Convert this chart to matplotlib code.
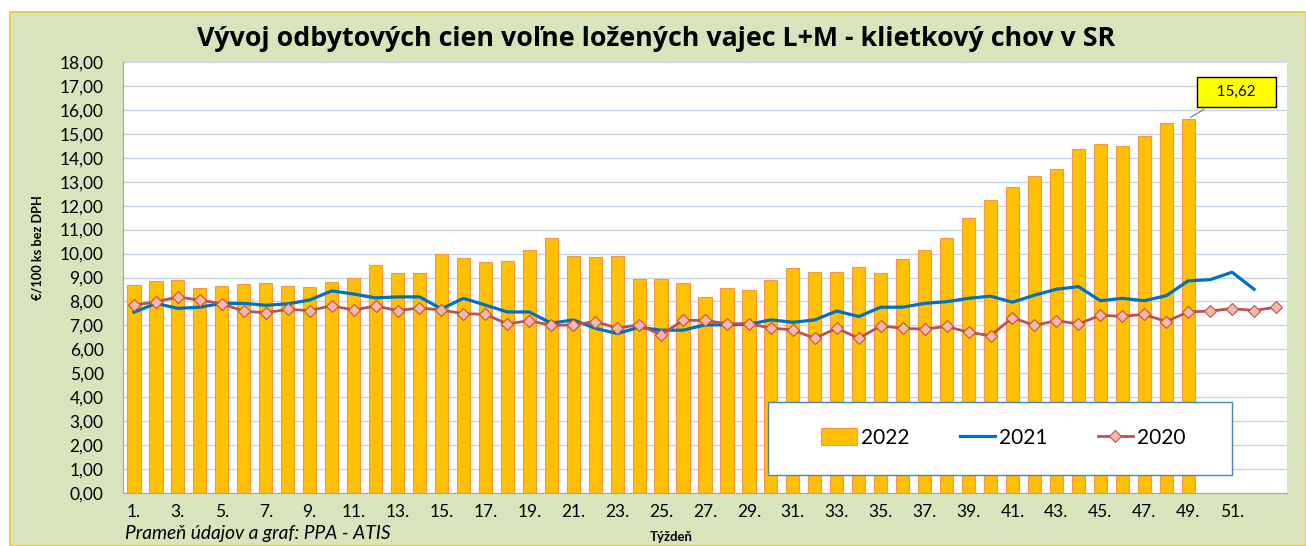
import numpy as np
import matplotlib.pyplot as plt
from matplotlib.patches import Rectangle

# weekly prices, EUR / 100 pcs without VAT
weeks = list(range(1, 54))
week_labels = [f"{w}." for w in range(1, 52, 2)]
price_2022 = [8.68, 8.84, 8.88, 8.58, 8.63, 8.73, 8.76, 8.66, 8.62, 8.81,
              8.98, 9.52, 9.20, 9.20, 9.98, 9.80, 9.63, 9.70, 10.14, 10.65,
              9.91, 9.87, 9.91, 8.92, 8.94, 8.76, 8.19, 8.58, 8.47, 8.90,
              9.40, 9.22, 9.22, 9.43, 9.18, 9.77, 10.14, 10.64, 11.50, 12.25,
              12.80, 13.24, 13.52, 14.36, 14.58, 14.48, 14.90, 15.44, 15.62]
price_2021 = [7.55, 7.92, 7.71, 7.76, 7.92, 7.92, 7.84, 7.90, 8.06, 8.44,
              8.31, 8.15, 8.19, 8.19, 7.69, 8.13, 7.85, 7.56, 7.56, 7.09,
              7.23, 6.88, 6.66, 6.92, 6.80, 6.80, 7.02, 7.02, 7.05, 7.23,
              7.13, 7.23, 7.60, 7.37, 7.76, 7.76, 7.92, 7.99, 8.13, 8.22,
              7.97, 8.26, 8.51, 8.62, 8.03, 8.13, 8.03, 8.24, 8.86, 8.91,
              9.22, 8.51]
price_2020 = [7.85, 7.98, 8.19, 8.05, 7.91, 7.59, 7.53, 7.67, 7.62, 7.82,
              7.64, 7.81, 7.62, 7.73, 7.64, 7.49, 7.46, 7.06, 7.20, 7.00,
              7.02, 7.16, 6.89, 7.02, 6.60, 7.21, 7.21, 7.07, 7.07, 6.89,
              6.81, 6.46, 6.88, 6.46, 6.98, 6.88, 6.84, 6.96, 6.71, 6.57,
              7.32, 7.00, 7.20, 7.06, 7.42, 7.38, 7.46, 7.16, 7.56, 7.60,
              7.70, 7.62, 7.76]

plt.rcParams['font.family'] = ['Lato', 'DejaVu Sans']

W, H = 1306, 546
fig = plt.figure(figsize=(W / 100, H / 100), dpi=100)
fig.patch.set_facecolor('white')
fig.patches.append(Rectangle((10 / W, 0), 1 - 10 / W, 1 - 12 / H, transform=fig.transFigure,
                             facecolor='#D8E4BC', edgecolor='#F2C230', lw=1.2, zorder=-5))

ax = fig.add_axes([123 / W, 1 - 493 / H, (1287 - 123) / W, (493 - 62) / H])
ax.set_zorder(2)
ax.set_facecolor('white')

x = np.arange(len(weeks))
b22 = ax.bar(x[:len(price_2022)], price_2022, width=0.6, color='#FFC000', edgecolor='#F79646',
             lw=0.8, label='2022', zorder=2)
l21, = ax.plot(x[:len(price_2021)], price_2021, color='#0070C0', lw=2.3, label='2021', zorder=3)
l20, = ax.plot(x[:len(price_2020)], price_2020, color='#C0504D', lw=2.0, marker='D', ms=6,
               mfc='#F4B9AE', mec='#C0504D', mew=0.8, label='2020', zorder=4)

ax.set_xlim(-0.5, len(weeks) - 0.5)
ax.set_ylim(0, 18)
ax.set_yticks(np.arange(0, 19, 1))
ax.set_yticklabels([f"{v:.2f}".replace('.', ',') for v in np.arange(0, 19, 1)], fontsize=12.5)
ax.set_xticks(x[::2][:len(week_labels)])
ax.set_xticklabels(week_labels, fontsize=12.5)
ax.tick_params(axis='both', length=0)
ax.tick_params(axis='y', pad=14)
ax.tick_params(axis='x', pad=8)
ax.grid(axis='y', color='#C8D5E8', lw=1.0, zorder=0)
ax.set_axisbelow(True)
for s in ['top', 'right']:
    ax.spines[s].set_visible(False)
ax.spines['left'].set_color('#A6A6A6')
ax.spines['bottom'].set_color('#A6A6A6')

ax.annotate('   15,62   ', xy=(48, price_2022[48]), xytext=(50.2, 16.75),
            ha='center', va='center', fontsize=11,
            bbox=dict(boxstyle='square,pad=0.55', fc='#FFFF00', ec='black', lw=1),
            arrowprops=dict(arrowstyle='-', color='#4F81BD', lw=0.8, relpos=(0.25, 0)))

# legend frame drawn separately so the inner spacing can match
ax.add_patch(Rectangle((0.554, 0.042), 0.399, 0.169, transform=ax.transAxes,
                       facecolor='white', edgecolor='#4F81BD', lw=1.0, zorder=5))
leg = ax.legend([b22, l21, l20], ['2022', '2021', '2020'], loc='center',
                bbox_to_anchor=(0.7565, 0.1276), ncol=3, fontsize=15, frameon=False,
                handlelength=1.7, handleheight=0.9, handletextpad=0.2, columnspacing=2.4,
                borderaxespad=0)
leg.set_zorder(6)

fig.text(656 / W, 1 - 46.5 / H, 'Vývoj odbytových cien voľne ložených vajec L+M - klietkový chov v SR',
         ha='center', va='baseline', fontsize=19.3, fontweight='bold',
         family=['Open Sans', 'DejaVu Sans'])
fig.text(37 / W, 1 - 248 / H, '€/100 ks bez DPH', rotation=90, ha='center', va='center',
         fontsize=9.2, fontweight='bold')
fig.text(125 / W, 1 - 533 / H, 'Prameň údajov a graf: PPA - ATIS', ha='left', va='center',
         fontsize=13.8, style='italic')
fig.text(671 / W, 1 - 537 / H, 'Týždeň', ha='center', va='center', fontsize=9.5, fontweight='bold')

fig.savefig('out.png', dpi=100)
